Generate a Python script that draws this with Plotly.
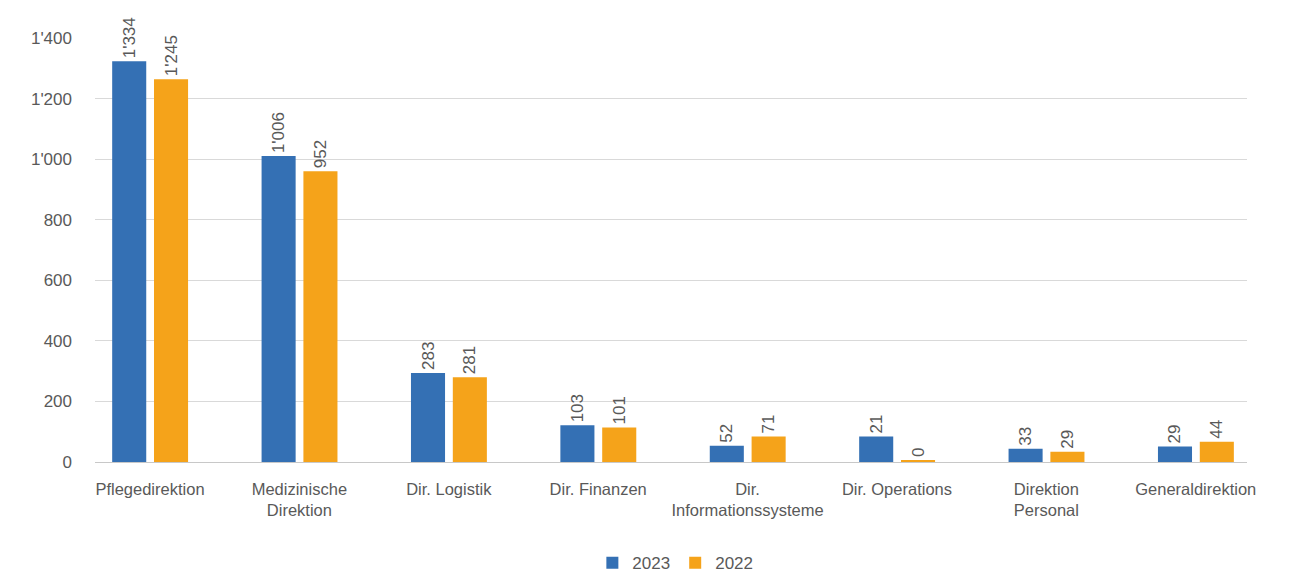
import plotly.graph_objects as go

categories = ["Pflegedirektion", "Medizinische<br>Direktion", "Dir. Logistik", "Dir. Finanzen",
              "Dir.<br>Informationssysteme", "Dir. Operations", "Direktion<br>Personal", "Generaldirektion"]
values_2023 = [1323, 1010, 294, 121, 54, 84, 44, 51]
values_2022 = [1264, 960, 280, 114, 84, 4, 34, 67]
labels_2023 = ["1'334", "1'006", "283", "103", "52", "21", "33", "29"]
labels_2022 = ["1'245", "952", "281", "101", "71", "0", "29", "44"]
y_ticks = [0, 200, 400, 600, 800, 1000, 1200, 1400]
y_ticktext = ["0", "200", "400", "600", "800", "1'000", "1'200", "1'400"]

BLUE = "#3470B4"
ORANGE = "#F5A31A"
TXT = "#595959"
FONT = "Liberation Sans"

x = list(range(len(categories)))

fig = go.Figure()
fig.add_trace(go.Bar(
    x=x, y=values_2023, name="2023", marker=dict(color=BLUE, line=dict(width=0)),
    width=0.228, offset=-0.253,
    text=labels_2023, textposition="outside", textangle=-90, constraintext="none",
    textfont=dict(family=FONT, size=17, color=TXT), cliponaxis=False,
))
fig.add_trace(go.Bar(
    x=x, y=values_2022, name="2022", marker=dict(color=ORANGE, line=dict(width=0)),
    width=0.228, offset=0.027,
    text=labels_2022, textposition="outside", textangle=-90, constraintext="none",
    textfont=dict(family=FONT, size=17, color=TXT), cliponaxis=False,
))

fig.update_layout(
    width=1306, height=576,
    margin=dict(l=87, r=67, t=30, b=122, autoexpand=False),
    paper_bgcolor="white", plot_bgcolor="white",
    font=dict(family=FONT, size=16, color=TXT),
    barmode="overlay",
    legend=dict(orientation="h", x=0.511, xanchor="center", xref="container",
                y=0.005, yanchor="bottom", yref="container",
                font=dict(family=FONT, size=17, color=TXT), traceorder="normal",
                itemwidth=30),
    xaxis=dict(
        range=[-0.368, 7.343], tickmode="array", tickvals=x, ticktext=categories,
        showgrid=False, showline=False, zeroline=False, ticks="", ticklabelstandoff=15,
        automargin=False,
        tickfont=dict(family=FONT, size=16.5, color=TXT),
    ),
    yaxis=dict(
        range=[0, 1400], tickmode="array", tickvals=y_ticks, ticktext=y_ticktext,
        showgrid=True, gridcolor="#D9D9D9", gridwidth=1,
        zeroline=True, zerolinecolor="#C8C8C8", zerolinewidth=1,
        showline=False, ticks="", ticklabelstandoff=22, automargin=False,
        tickfont=dict(family=FONT, size=17, color=TXT),
    ),
)

fig.write_html("out.html")
